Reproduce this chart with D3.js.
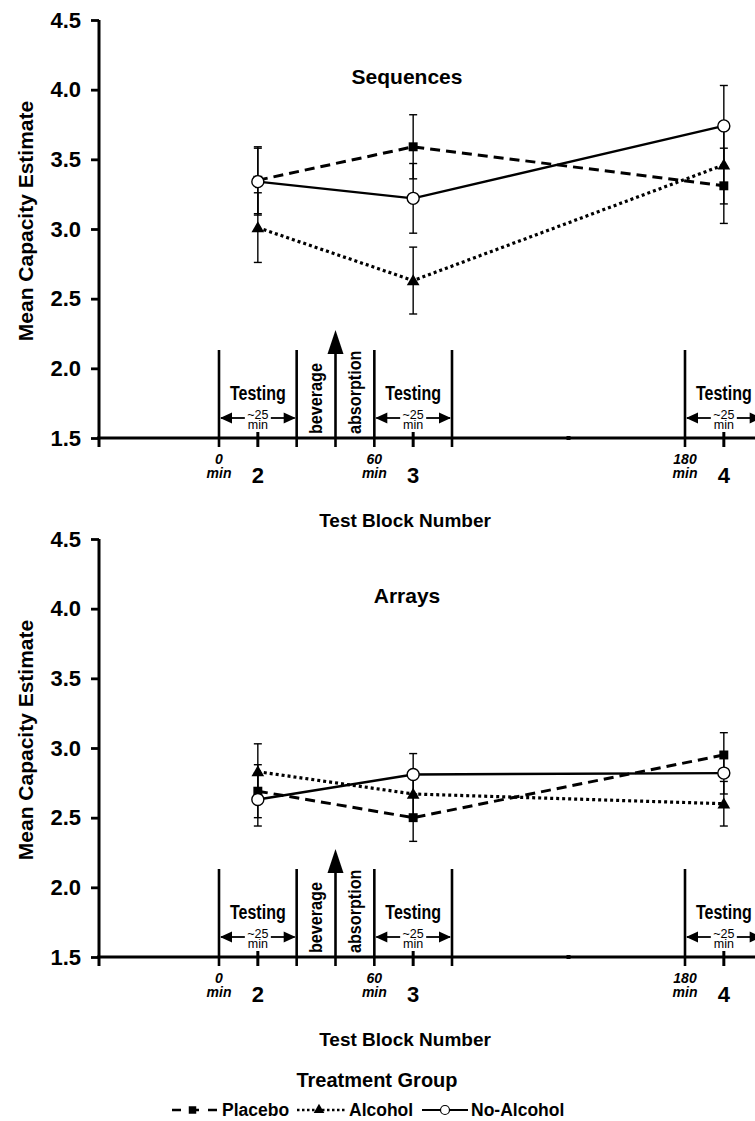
<!DOCTYPE html>
<html>
<head>
<meta charset="utf-8">
<script src="https://cdn.jsdelivr.net/npm/d3@7"></script>
<style>
  body { margin: 0; background: #fff; }
  svg { display: block; overflow: hidden; }
  text { font-family: "Liberation Sans", Arial, sans-serif; font-weight: bold; fill: #000; }
</style>
</head>
<body>
<div id="chart"></div>
<script>
// data
var blocks = [2, 3, 4],
  blockMinutes = [15, 75, 195],
  groups = ["Placebo", "Alcohol", "No-Alcohol"];

var seqPlacebo = [3.35, 3.59, 3.31],
  seqPlaceboErr = [0.24, 0.23, 0.27],
  seqAlcohol = [3.01, 2.63, 3.46],
  seqAlcoholErr = [0.25, 0.24, 0.28],
  seqNoAlcohol = [3.34, 3.22, 3.74],
  seqNoAlcoholErr = [0.24, 0.25, 0.29];

var arrPlacebo = [2.69, 2.50, 2.95],
  arrPlaceboErr = [0.19, 0.17, 0.16],
  arrAlcohol = [2.83, 2.67, 2.60],
  arrAlcoholErr = [0.20, 0.15, 0.16],
  arrNoAlcohol = [2.63, 2.81, 2.82],
  arrNoAlcoholErr = [0.19, 0.15, 0.15];

var yTicks = [1.5, 2.0, 2.5, 3.0, 3.5, 4.0, 4.5],
  intervalEdges = [0, 30, 60, 90, 180, 210],
  testingIntervals = [[0, 30], [60, 90], [180, 210]],
  timeLabels = [0, 60, 180],
  beverageMinute = 45,
  minorMinute = 135;

var width = 755,
  height = 1121,
  panelOffset = 519;

var svg = d3.select("#chart").append("svg")
  .attr("width", width)
  .attr("height", height);

var x = d3.scaleLinear().domain([0, 180]).range([219, 685]);
var y = d3.scaleLinear().domain([1.5, 4.5]).range([438, 20]);

var styles = {
  "Placebo": { dash: "10,6", width: 3, marker: d3.symbolSquare, size: 80 },
  "Alcohol": { dash: "3,3", width: 3.2, marker: d3.symbolTriangle, size: 70 },
  "No-Alcohol": { dash: null, width: 2.4, marker: null, size: 0 }
};

function drawPanel(offset, title, series) {
  var g = svg.append("g").attr("transform", "translate(0," + offset + ")");

  // y axis
  var yAxis = d3.axisLeft(y).tickValues(yTicks).tickSize(8).tickPadding(10)
    .tickFormat(d3.format(".1f"));
  var ya = g.append("g").attr("transform", "translate(99,0)").call(yAxis);
  ya.select(".domain").attr("stroke-width", 3).attr("d", "M0," + y(4.5) + "V" + (y(1.5) + 9));
  ya.selectAll(".tick line").attr("stroke-width", 2.8);
  ya.selectAll(".tick text").style("font-size", "22px");

  g.append("text")
    .attr("transform", "translate(33," + (y(3) - 8) + ") rotate(-90)")
    .attr("text-anchor", "middle")
    .style("font-size", "21px")
    .text("Mean Capacity Estimate");

  // timeline annotation
  var ann = g.append("g");
  ann.selectAll(".edge").data(intervalEdges).enter().append("line")
    .attr("x1", d => x(d)).attr("x2", d => x(d))
    .attr("y1", 350).attr("y2", y(1.5) + 9)
    .attr("stroke", "#000").attr("stroke-width", 2.6);

  ann.append("line")
    .attr("x1", x(beverageMinute)).attr("x2", x(beverageMinute))
    .attr("y1", 345).attr("y2", y(1.5) + 9)
    .attr("stroke", "#000").attr("stroke-width", 2.6);
  ann.append("path")
    .attr("d", "M" + x(beverageMinute) + ",330 l-8,24 l16,0 z")
    .attr("fill", "#000");

  testingIntervals.forEach(function (iv) {
    var cx = x((iv[0] + iv[1]) / 2);
    ann.append("text")
      .attr("transform", "translate(" + cx + ",400) scale(0.8,1)")
      .attr("text-anchor", "middle")
      .style("font-size", "20px")
      .text("Testing");
    var ay = 418;
    ann.append("line").attr("x1", x(iv[0]) + 2).attr("x2", cx - 13)
      .attr("y1", ay).attr("y2", ay).attr("stroke", "#000").attr("stroke-width", 1.8);
    ann.append("line").attr("x1", cx + 13).attr("x2", x(iv[1]) - 2)
      .attr("y1", ay).attr("y2", ay).attr("stroke", "#000").attr("stroke-width", 1.8);
    ann.append("path").attr("d", "M" + (x(iv[0]) + 1) + "," + ay + " l12,-5.5 l0,11 z").attr("fill", "#000");
    ann.append("path").attr("d", "M" + (x(iv[1]) - 1) + "," + ay + " l-12,-5.5 l0,11 z").attr("fill", "#000");
    ann.append("text")
      .attr("transform", "translate(" + cx + ",419)")
      .attr("text-anchor", "middle")
      .style("font-size", "12.5px").style("font-weight", "normal")
      .text("~25");
    ann.append("text")
      .attr("transform", "translate(" + cx + ",429)")
      .attr("text-anchor", "middle")
      .style("font-size", "12.5px").style("font-weight", "normal")
      .text("min");
  });

  ann.append("text")
    .attr("transform", "translate(" + (x(37.5) + 6) + ",434) rotate(-90) scale(0.85,1)")
    .style("font-size", "19px")
    .text("beverage");
  ann.append("text")
    .attr("transform", "translate(" + (x(52.5) + 6) + ",434) rotate(-90) scale(0.85,1)")
    .style("font-size", "19px")
    .text("absorption");

  // x axis
  var xa = g.append("g").attr("transform", "translate(0," + y(1.5) + ")");
  xa.append("line").attr("x1", 97).attr("x2", width + 10)
    .attr("y1", 0).attr("y2", 0).attr("stroke", "#000").attr("stroke-width", 3);
  xa.selectAll(".bt").data(blockMinutes).enter().append("line")
    .attr("x1", d => x(d)).attr("x2", d => x(d))
    .attr("y1", -6).attr("y2", 9)
    .attr("stroke", "#000").attr("stroke-width", 3);
  xa.append("rect").attr("x", x(minorMinute) - 2).attr("y", -2).attr("width", 4).attr("height", 4);
  xa.selectAll(".bl").data(blocks).enter().append("text")
    .attr("x", (d, i) => x(blockMinutes[i]))
    .attr("y", 45)
    .attr("text-anchor", "middle")
    .style("font-size", "22px")
    .text(d => d);
  timeLabels.forEach(function (t) {
    xa.append("text").attr("x", x(t)).attr("y", 26).attr("text-anchor", "middle")
      .style("font-size", "14px").style("font-style", "italic").text(t);
    xa.append("text").attr("x", x(t)).attr("y", 40).attr("text-anchor", "middle")
      .style("font-size", "14px").style("font-style", "italic").text("min");
  });

  g.append("text")
    .attr("x", 405).attr("y", 527)
    .attr("text-anchor", "middle")
    .style("font-size", "19px")
    .text("Test Block Number");

  g.append("text")
    .attr("x", 407).attr("y", 84)
    .attr("text-anchor", "middle")
    .style("font-size", "21px")
    .text(title);

  // lines
  var line = d3.line().x((d, i) => x(blockMinutes[i])).y(d => y(d));
  series.forEach(function (s) {
    var st = styles[s.name];
    g.append("path")
      .datum(s.values)
      .attr("d", line)
      .attr("fill", "none")
      .attr("stroke", "#000")
      .attr("stroke-width", st.width)
      .attr("stroke-dasharray", st.dash);
  });

  // error bars
  series.forEach(function (s) {
    s.values.forEach(function (v, i) {
      var cx = x(blockMinutes[i]), e = s.err[i];
      g.append("line").attr("x1", cx).attr("x2", cx)
        .attr("y1", y(v + e)).attr("y2", y(v - e))
        .attr("stroke", "#000").attr("stroke-width", 1.4);
      [v + e, v - e].forEach(function (c) {
        g.append("line").attr("x1", cx - 4).attr("x2", cx + 4)
          .attr("y1", y(c)).attr("y2", y(c))
          .attr("stroke", "#000").attr("stroke-width", 1.4);
      });
    });
  });

  // markers
  series.forEach(function (s) {
    var st = styles[s.name];
    s.values.forEach(function (v, i) {
      var cx = x(blockMinutes[i]);
      if (st.marker) {
        g.append("path")
          .attr("d", d3.symbol().type(st.marker).size(st.size)())
          .attr("transform", "translate(" + cx + "," + (y(v) + (st.marker === d3.symbolTriangle ? 1 : 0)) + ")")
          .attr("fill", "#000");
      } else {
        g.append("circle").attr("cx", cx).attr("cy", y(v)).attr("r", 6)
          .attr("fill", "#fff").attr("stroke", "#000").attr("stroke-width", 1.4);
      }
    });
  });
}

drawPanel(0, "Sequences", [
  { name: "Placebo", values: seqPlacebo, err: seqPlaceboErr },
  { name: "Alcohol", values: seqAlcohol, err: seqAlcoholErr },
  { name: "No-Alcohol", values: seqNoAlcohol, err: seqNoAlcoholErr }
]);

drawPanel(panelOffset, "Arrays", [
  { name: "Placebo", values: arrPlacebo, err: arrPlaceboErr },
  { name: "Alcohol", values: arrAlcohol, err: arrAlcoholErr },
  { name: "No-Alcohol", values: arrNoAlcohol, err: arrNoAlcoholErr }
]);

// legend
svg.append("text")
  .attr("x", 377).attr("y", 1087)
  .attr("text-anchor", "middle")
  .style("font-size", "20px")
  .text("Treatment Group");

var legendItems = [
  { name: groups[0], x1: 172, x2: 217, tx: 222 },
  { name: groups[1], x1: 297, x2: 345, tx: 349 },
  { name: groups[2], x1: 422, x2: 468, tx: 471 }
];
var ly = 1110;
legendItems.forEach(function (it) {
  var st = styles[it.name];
  svg.append("line")
    .attr("x1", it.x1).attr("x2", it.x2).attr("y1", ly).attr("y2", ly)
    .attr("stroke", "#000").attr("stroke-width", it.name === "No-Alcohol" ? 2 : st.width - 0.5)
    .attr("stroke-dasharray", it.name === "Placebo" ? "9,9" : it.name === "Alcohol" ? "2.5,2.5" : null);
  var mx = (it.x1 + it.x2) / 2 - 2;
  if (st.marker) {
    svg.append("path")
      .attr("d", d3.symbol().type(st.marker).size(st.size * 0.7)())
      .attr("transform", "translate(" + mx + "," + ly + ")")
      .attr("fill", "#000");
  } else {
    svg.append("circle").attr("cx", mx + 2).attr("cy", ly).attr("r", 4.5)
      .attr("fill", "#fff").attr("stroke", "#000").attr("stroke-width", 1.2);
  }
  svg.append("text")
    .attr("x", it.tx).attr("y", ly + 6)
    .style("font-size", "17.5px")
    .text(it.name);
});
</script>
</body>
</html>
